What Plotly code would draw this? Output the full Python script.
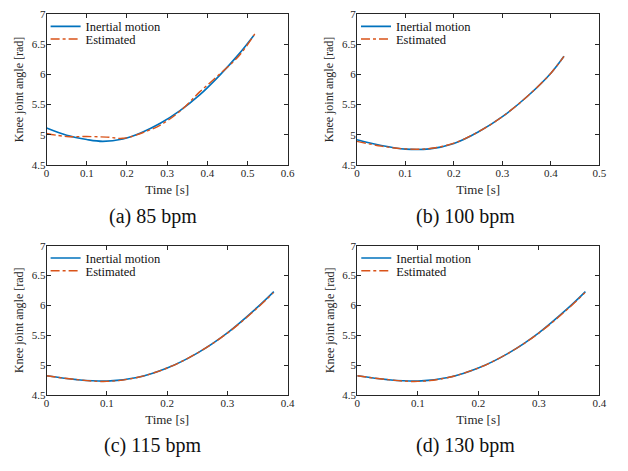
import plotly.graph_objects as go

W, H = 628, 471

# ---- data ----
t_a_in = [0, 0.05, 0.10, 0.14, 0.19, 0.234, 0.283, 0.332, 0.381, 0.430, 0.479, 0.516]
y_a_in = [5.11, 4.99, 4.92, 4.89, 4.93, 5.03, 5.19, 5.40, 5.66, 5.98, 6.34, 6.65]
t_a_es = [0, 0.05, 0.10, 0.15, 0.19, 0.234, 0.283, 0.332, 0.381, 0.430, 0.479, 0.518]
y_a_es = [5.02, 4.97, 4.97, 4.96, 4.94, 5.02, 5.16, 5.39, 5.71, 6.00, 6.31, 6.67]

t_b_in = [0, 0.05, 0.10, 0.15, 0.20, 0.25, 0.30, 0.35, 0.40, 0.427]
y_b_in = [4.915, 4.82, 4.76, 4.765, 4.855, 5.045, 5.30, 5.625, 6.02, 6.30]
t_b_es = [0, 0.05, 0.10, 0.15, 0.20, 0.25, 0.30, 0.35, 0.40, 0.427]
y_b_es = [4.89, 4.81, 4.765, 4.77, 4.86, 5.045, 5.30, 5.625, 6.02, 6.30]

t_c_in = [0, 0.05, 0.10, 0.15, 0.20, 0.25, 0.30, 0.35, 0.377]
y_c_in = [4.82, 4.755, 4.73, 4.79, 4.95, 5.20, 5.54, 5.97, 6.23]
t_c_es = [0, 0.05, 0.10, 0.15, 0.20, 0.25, 0.30, 0.35, 0.376]
y_c_es = [4.82, 4.755, 4.725, 4.79, 4.95, 5.20, 5.535, 5.96, 6.21]

t_d_in = [0, 0.05, 0.10, 0.15, 0.20, 0.25, 0.30, 0.35, 0.377]
y_d_in = [4.82, 4.755, 4.73, 4.79, 4.95, 5.20, 5.54, 5.97, 6.23]
t_d_es = [0, 0.05, 0.10, 0.15, 0.20, 0.25, 0.30, 0.35, 0.376]
y_d_es = [4.82, 4.755, 4.725, 4.79, 4.95, 5.20, 5.535, 5.96, 6.21]

captions = ["(a) 85 bpm", "(b) 100 bpm", "(c) 115 bpm", "(d) 130 bpm"]
x_ranges = [[0, 0.6], [0, 0.5], [0, 0.4], [0, 0.4]]
x_ticks = [[0, 0.1, 0.2, 0.3, 0.4, 0.5, 0.6],
           [0, 0.1, 0.2, 0.3, 0.4, 0.5],
           [0, 0.1, 0.2, 0.3, 0.4],
           [0, 0.1, 0.2, 0.3, 0.4]]
y_ticks = [4.5, 5, 5.5, 6, 6.5, 7]
names = ["Inertial motion", "Estimated"]

series = [(t_a_in, y_a_in, t_a_es, y_a_es),
          (t_b_in, y_b_in, t_b_es, y_b_es),
          (t_c_in, y_c_in, t_c_es, y_c_es),
          (t_d_in, y_d_in, t_d_es, y_d_es)]

# ---- layout in pixels ----
boxes = [  # x0, x1, ytop, ybottom
    (44.3, 289.3, 8.3, 163),
    (359.7, 606, 8.3, 163),
    (44.3, 289.3, 246, 399),
    (360, 606, 246, 399),
]
cap_pos = [(152, 216), (470, 216), (152, 451), (470, 451)]
leg_rows = [13, 26]  # offsets of legend rows below plot top

FONT = "Liberation Serif"
TXT = "#262626"
BLUE = "#0072BD"
ORANGE = "#D95319"

fig = go.Figure()
layout = dict(
    width=W, height=H, margin=dict(l=0, r=0, t=0, b=0),
    paper_bgcolor="white", plot_bgcolor="white",
    font=dict(family=FONT, color=TXT),
    annotations=[], showlegend=True,
)

n_leg = 0
for i, (bx, ser) in enumerate(zip(boxes, series)):
    k = "" if i == 0 else str(i + 1)
    x0, x1, yt, yb = bx
    ti, yi, te, ye = ser
    styles = [dict(color=BLUE, width=1.6, shape="spline"),
              dict(color=ORANGE, width=1.4, dash="dashdot", shape="spline")]
    for j, (tx, ty) in enumerate([(ti, yi), (te, ye)]):
        n_leg += 1
        leg = "legend" if n_leg == 1 else "legend" + str(n_leg)
        fig.add_trace(go.Scatter(x=tx, y=ty, mode="lines", name=names[j],
                                 line=styles[j], xaxis="x" + k, yaxis="y" + k,
                                 legend=leg))
        layout[leg] = dict(x=(x0 - 1) / W, y=1 - (yt + leg_rows[j]) / H,
                           xanchor="left", yanchor="middle",
                           bgcolor="rgba(0,0,0,0)", borderwidth=0,
                           font=dict(size=12.5, family=FONT, color="#111"),
                           itemwidth=30)
    common = dict(showline=True, linecolor=TXT, linewidth=1, mirror="ticks",
                  ticks="inside", ticklen=4, tickcolor=TXT, showgrid=False,
                  zeroline=False, tickfont=dict(size=11, color=TXT, family=FONT))
    layout["xaxis" + k] = dict(domain=[x0 / W, x1 / W], range=x_ranges[i],
                               tickvals=x_ticks[i], anchor="y" + k,
                               ticklabelstandoff=-2,
                               title=dict(text="Time [s]", font=dict(size=13, family=FONT, color=TXT), standoff=6),
                               **common)
    layout["yaxis" + k] = dict(domain=[1 - yb / H, 1 - yt / H], range=[4.5, 7],
                               tickvals=y_ticks, anchor="x" + k,
                               ticklabelstandoff=-2,
                               title=dict(text="Knee joint angle [rad]", font=dict(size=12, family=FONT, color=TXT), standoff=5),
                               **common)
    cx, cy = cap_pos[i]
    layout["annotations"].append(dict(text=captions[i], x=cx / W, y=1 - cy / H,
                                      xref="paper", yref="paper", showarrow=False,
                                      xanchor="center", yanchor="middle",
                                      font=dict(size=20, family=FONT, color="#111")))

fig.update_layout(**layout)
fig.write_html("out.html")
